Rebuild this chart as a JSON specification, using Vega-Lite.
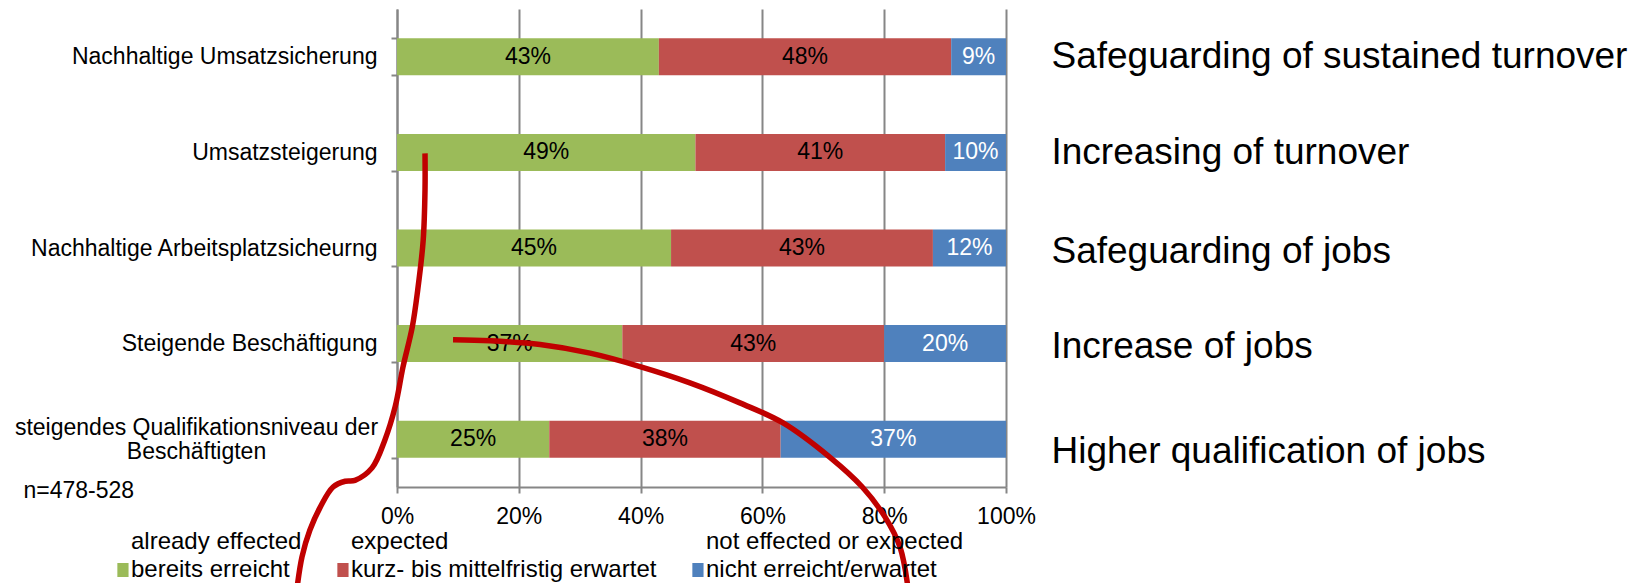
{
  "$schema": "https://vega.github.io/schema/vega-lite/v6.json",
  "width": 609,
  "height": 478,
  "autosize": {"type": "none"},
  "padding": {"left": 397, "top": 9, "right": 635, "bottom": 96},
  "background": "white",
  "config": {"view": {"stroke": null}, "font": "Liberation Sans"},
  "datasets": {
    "bars": [
      {"cat": "Nachhaltige Umsatzsicherung", "en": "Safeguarding of sustained turnover", "series": "bereits erreicht", "pct": 0.43},
      {"cat": "Nachhaltige Umsatzsicherung", "en": "Safeguarding of sustained turnover", "series": "kurz- bis mittelfristig erwartet", "pct": 0.48},
      {"cat": "Nachhaltige Umsatzsicherung", "en": "Safeguarding of sustained turnover", "series": "nicht erreicht/erwartet", "pct": 0.09},
      {"cat": "Umsatzsteigerung", "en": "Increasing of turnover", "series": "bereits erreicht", "pct": 0.49},
      {"cat": "Umsatzsteigerung", "en": "Increasing of turnover", "series": "kurz- bis mittelfristig erwartet", "pct": 0.41},
      {"cat": "Umsatzsteigerung", "en": "Increasing of turnover", "series": "nicht erreicht/erwartet", "pct": 0.10},
      {"cat": "Nachhaltige Arbeitsplatzsicheurng", "en": "Safeguarding of jobs", "series": "bereits erreicht", "pct": 0.45},
      {"cat": "Nachhaltige Arbeitsplatzsicheurng", "en": "Safeguarding of jobs", "series": "kurz- bis mittelfristig erwartet", "pct": 0.43},
      {"cat": "Nachhaltige Arbeitsplatzsicheurng", "en": "Safeguarding of jobs", "series": "nicht erreicht/erwartet", "pct": 0.12},
      {"cat": "Steigende Beschäftigung", "en": "Increase of jobs", "series": "bereits erreicht", "pct": 0.37},
      {"cat": "Steigende Beschäftigung", "en": "Increase of jobs", "series": "kurz- bis mittelfristig erwartet", "pct": 0.43},
      {"cat": "Steigende Beschäftigung", "en": "Increase of jobs", "series": "nicht erreicht/erwartet", "pct": 0.20},
      {"cat": "steigendes Qualifikationsniveau der Beschäftigten", "en": "Higher qualification of jobs", "series": "bereits erreicht", "pct": 0.25},
      {"cat": "steigendes Qualifikationsniveau der Beschäftigten", "en": "Higher qualification of jobs", "series": "kurz- bis mittelfristig erwartet", "pct": 0.38},
      {"cat": "steigendes Qualifikationsniveau der Beschäftigten", "en": "Higher qualification of jobs", "series": "nicht erreicht/erwartet", "pct": 0.37}
    ],
    "curves": [
      {"curve": "a", "x": 0.046, "y": 1.01},
      {"curve": "a", "x": 0.046, "y": 1.39},
      {"curve": "a", "x": 0.043, "y": 1.92},
      {"curve": "a", "x": 0.034, "y": 2.44},
      {"curve": "a", "x": 0.025, "y": 2.83},
      {"curve": "a", "x": 0.010, "y": 3.24},
      {"curve": "a", "x": -0.003, "y": 3.66},
      {"curve": "a", "x": -0.020, "y": 4.01},
      {"curve": "a", "x": -0.041, "y": 4.30},
      {"curve": "a", "x": -0.069, "y": 4.43},
      {"curve": "a", "x": -0.085, "y": 4.44},
      {"curve": "a", "x": -0.105, "y": 4.50},
      {"curve": "a", "x": -0.126, "y": 4.71},
      {"curve": "a", "x": -0.143, "y": 4.95},
      {"curve": "a", "x": -0.156, "y": 5.23},
      {"curve": "a", "x": -0.165, "y": 5.60},
      {"curve": "b", "x": 0.092, "y": 2.96},
      {"curve": "b", "x": 0.153, "y": 2.97},
      {"curve": "b", "x": 0.235, "y": 3.01},
      {"curve": "b", "x": 0.317, "y": 3.10},
      {"curve": "b", "x": 0.399, "y": 3.24},
      {"curve": "b", "x": 0.481, "y": 3.41},
      {"curve": "b", "x": 0.563, "y": 3.62},
      {"curve": "b", "x": 0.634, "y": 3.83},
      {"curve": "b", "x": 0.711, "y": 4.19},
      {"curve": "b", "x": 0.764, "y": 4.50},
      {"curve": "b", "x": 0.801, "y": 4.81},
      {"curve": "b", "x": 0.826, "y": 5.13},
      {"curve": "b", "x": 0.840, "y": 5.60}
    ]
  },
  "layer": [
    {
      "data": {"name": "bars"},
      "layer": [
        {
          "mark": {"type": "bar"},
          "encoding": {
            "y": {
              "field": "cat", "type": "nominal", "sort": null,
              "scale": {"paddingInner": 0.613, "paddingOuter": 0.3065},
              "axis": {
                "orient": "left", "title": null,
                "domainColor": "#868686", "domainWidth": 2,
                "tickColor": "#868686", "tickWidth": 2, "tickSize": 6, "tickBand": "extent",
                "labelFontSize": 23, "labelColor": "#000000", "labelLimit": 420, "labelLineHeight": 24,
                "labelPadding": {"condition": {"test": "datum.value == 'steigendes Qualifikationsniveau der Beschäftigten'", "value": 195}, "value": 14},
                "labelAlign": {"condition": {"test": "datum.value == 'steigendes Qualifikationsniveau der Beschäftigten'", "value": "center"}, "value": "right"},
                "labelOffset": {"condition": {"test": "datum.value == 'steigendes Qualifikationsniveau der Beschäftigten'", "value": -12}, "value": 0},
                "labelExpr": "datum.value == 'steigendes Qualifikationsniveau der Beschäftigten' ? ['steigendes Qualifikationsniveau der', 'Beschäftigten'] : datum.label"
              }
            },
            "x": {
              "field": "pct", "type": "quantitative", "stack": "zero",
              "scale": {"domain": [0, 1], "nice": false},
              "axis": {
                "values": [0, 0.2, 0.4, 0.6, 0.8, 1], "format": ".0%",
                "grid": true, "gridColor": "#868686", "gridWidth": 2,
                "domainColor": "#868686", "domainWidth": 2,
                "tickColor": "#868686", "tickWidth": 2, "tickSize": 6,
                "labelFontSize": 23, "labelColor": "#000000", "labelPadding": 12,
                "labelFlush": false, "labelOverlap": false,
                "title": "n=478-528", "titleFontSize": 23, "titleFontWeight": "normal", "titleColor": "#000000",
                "titleAlign": "left", "titleAnchor": "start", "titleBaseline": "middle", "titleX": -374, "titleY": 3
              }
            },
            "color": {
              "field": "series", "type": "nominal",
              "scale": {
                "domain": ["bereits erreicht", "kurz- bis mittelfristig erwartet", "nicht erreicht/erwartet"],
                "range": ["#9BBB59", "#C0504D", "#4F81BD"]
              },
              "legend": {
                "orient": "none", "legendX": -292, "legendY": 521, "direction": "horizontal",
                "title": null, "padding": 0,
                "symbolType": "M0.05,3H1.65V5H0.05Z", "symbolSize": 196, "symbolStrokeWidth": 0, "symbolOpacity": 1,
                "labelFontSize": 24, "labelColor": "#000000", "labelOffset": 2, "columnPadding": 23, "labelLimit": 400,
                "labelExpr": "datum.label == 'bereits erreicht' ? ['already effected', 'bereits erreicht'] : datum.label == 'kurz- bis mittelfristig erwartet' ? ['expected', 'kurz- bis mittelfristig erwartet'] : ['not effected  or expected', 'nicht erreicht/erwartet']",
                "encode": {"labels": {"update": {"lineHeight": {"value": 28}}}}
              }
            },
            "order": {"field": "series", "type": "nominal", "sort": "ascending"}
          }
        },
        {
          "mark": {"type": "text", "fontSize": 23, "baseline": "middle", "align": "center"},
          "encoding": {
            "y": {"field": "cat", "type": "nominal", "sort": null},
            "x": {"field": "pct", "type": "quantitative", "stack": "zero", "bandPosition": 0.5},
            "detail": {"field": "series", "type": "nominal"},
            "order": {"field": "series", "type": "nominal", "sort": "ascending"},
            "text": {"field": "pct", "type": "quantitative", "format": ".0%"},
            "color": {"condition": {"test": "datum.series === 'nicht erreicht/erwartet'", "value": "#ffffff"}, "value": "#000000"}
          }
        }
      ]
    },
    {
      "data": {"name": "bars"},
      "mark": {"type": "point", "opacity": 0},
      "encoding": {
        "y": {
          "field": "en", "type": "nominal", "sort": null,
          "axis": {
            "orient": "right", "title": null, "domain": false, "ticks": false, "grid": false,
            "labelFontSize": 37, "labelColor": "#000000", "labelPadding": 45, "labelLimit": 700, "labelAlign": "left",
            "labelOffset": {"condition": [
              {"test": "datum.value == 'Higher qualification of jobs'", "value": 12},
              {"test": "datum.value == 'Increase of jobs' || datum.value == 'Safeguarding of jobs'", "value": 3}
            ], "value": 0}
          }
        }
      }
    },
    {
      "data": {"name": "curves"},
      "mark": {"type": "line", "color": "#C00000", "strokeWidth": 5.5, "interpolate": "catmull-rom", "clip": false},
      "encoding": {
        "x": {"field": "x", "type": "quantitative", "scale": {"domain": [0, 1], "nice": false, "zero": false}, "axis": null},
        "y": {"field": "y", "type": "quantitative", "scale": {"domain": [-0.5, 4.5], "reverse": true, "nice": false, "zero": false}, "axis": null},
        "detail": {"field": "curve", "type": "nominal"},
        "order": {"value": null}
      }
    }
  ],
  "resolve": {"scale": {"y": "independent", "x": "independent"}, "axis": {"y": "independent", "x": "independent"}}
}
